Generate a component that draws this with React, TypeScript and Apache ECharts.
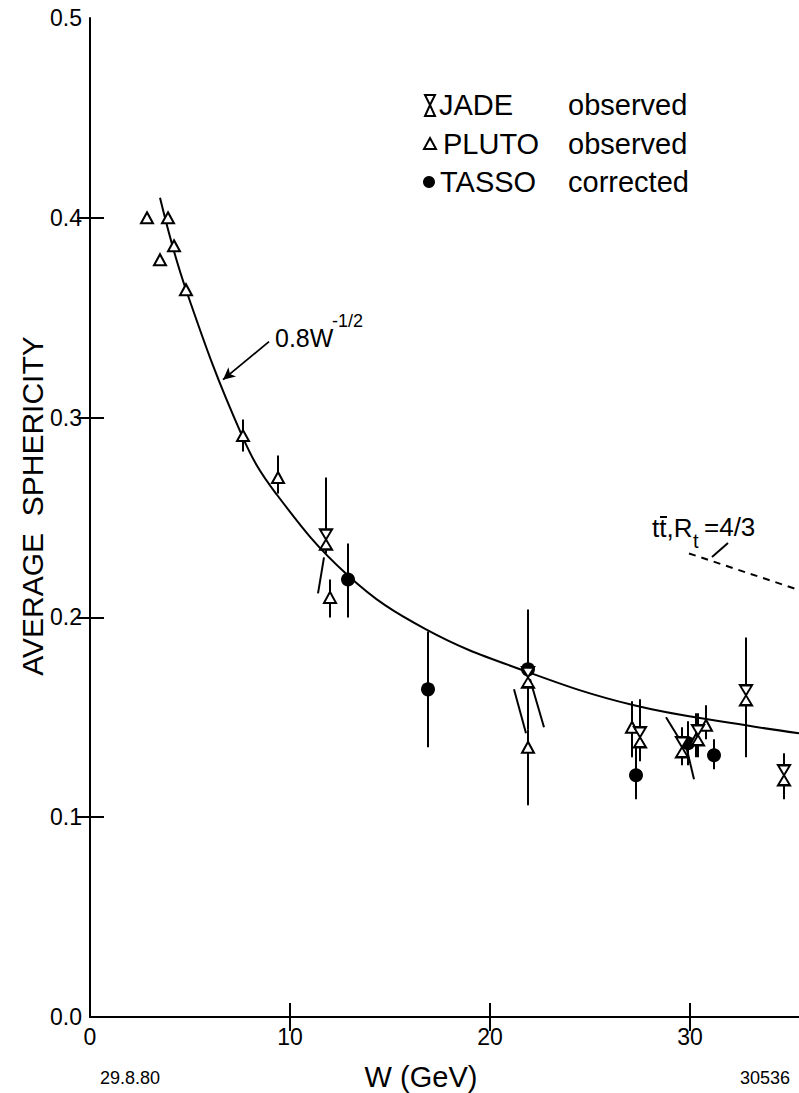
import React, { useEffect, useRef } from "react";
import * as echarts from "echarts";

const FONT = "'Liberation Sans', Arial, sans-serif";

// x axis: centre-of-mass energy W (GeV)
const xMin = 0;
const xMax = 35.45;
const xTicks = [0, 10, 20, 30];
// y axis: average sphericity
const yTicks = [0.0, 0.1, 0.2, 0.3, 0.4, 0.5];

// JADE (observed): W, <S>, error bar low, error bar high
const jadeW = [11.8, 21.9, 27.5, 29.6, 30.4, 32.8, 34.7];
const jadeS = [0.239, 0.17, 0.14, 0.135, 0.141, 0.161, 0.121];
const jadeLo = [0.232, 0.16, 0.128, 0.126, 0.13, 0.13, 0.109];
const jadeHi = [0.27, 0.18, 0.159, 0.145, 0.152, 0.19, 0.132];

// PLUTO (observed)
const plutoW = [2.85, 3.5, 3.9, 4.2, 4.8, 7.65, 9.4, 12.0, 21.9, 27.1, 30.3, 30.8];
const plutoS = [0.4, 0.379, 0.4, 0.386, 0.364, 0.291, 0.27, 0.21, 0.135, 0.145, 0.139, 0.146];
const plutoLo = [null, null, null, null, null, 0.283, 0.262, 0.2, 0.106, 0.13, 0.13, 0.139];
const plutoHi = [null, null, null, null, null, 0.299, 0.281, 0.219, 0.144, 0.158, 0.152, 0.156];

// TASSO (corrected)
const tassoW = [12.9, 16.9, 21.9, 27.3, 29.9, 31.2];
const tassoS = [0.219, 0.164, 0.174, 0.121, 0.137, 0.131];
const tassoLo = [0.2, 0.135, 0.144, 0.109, 0.126, 0.124];
const tassoHi = [0.237, 0.193, 0.204, 0.135, 0.148, 0.139];

// tilted error bars: start (W, S) -> end (W, S)
const tiltW1 = [11.7, 21.2, 22.0, 28.8, 29.7];
const tiltS1 = [0.23, 0.164, 0.169, 0.15, 0.14];
const tiltW2 = [11.4, 21.8, 22.7, 29.6, 30.2];
const tiltS2 = [0.212, 0.142, 0.145, 0.137, 0.119];

// 0.8 W^-1/2 curve
const curveW = [3.5, 4.8, 7.6, 9.3, 12.9, 16.8, 21.8, 27.2, 32.8, 35.45];
const curveS = [0.41, 0.364, 0.291, 0.262, 0.221, 0.194, 0.173, 0.156, 0.146, 0.142];

// t tbar contribution, R_t = 4/3
const ttW = [29.95, 35.45];
const ttS = [0.232, 0.2137];

const HOURGLASS = "path://M0,0L12,0L6,10L12,20L0,20L6,10Z";

function pairs(xs: number[], ys: number[]) {
  return xs.map((x, i) => [x, ys[i]]);
}
function bars(xs: number[], lo: (number | null)[], hi: (number | null)[]) {
  const out: number[][] = [];
  xs.forEach((x, i) => {
    if (lo[i] != null && hi[i] != null) out.push([x, lo[i] as number, hi[i] as number]);
  });
  return out;
}

const barRender = (_p: any, api: any) => {
  const a = api.coord([api.value(0), api.value(1)]);
  const b = api.coord([api.value(0), api.value(2)]);
  return {
    type: "line",
    shape: { x1: a[0], y1: a[1], x2: b[0], y2: b[1] },
    style: { stroke: "#000", lineWidth: 2 },
  };
};
const tiltRender = (_p: any, api: any) => {
  const a = api.coord([api.value(0), api.value(1)]);
  const b = api.coord([api.value(2), api.value(3)]);
  return {
    type: "line",
    shape: { x1: a[0], y1: a[1], x2: b[0], y2: b[1] },
    style: { stroke: "#000", lineWidth: 2 },
  };
};

export default function App() {
  const ref = useRef<HTMLDivElement>(null);

  useEffect(() => {
    if (!ref.current) return;
    const chart = echarts.init(ref.current, undefined, { renderer: "svg" });

    const axisLabel = { color: "#000", fontFamily: FONT, fontSize: 23 };
    const txt = (text: string, x: number, y: number, size: number, extra: any = {}, rotation = 0) => ({
      type: "text",
      x,
      y,
      rotation,
      silent: true,
      style: {
        text,
        fill: "#000",
        fontFamily: FONT,
        fontSize: size,
        align: "left",
        verticalAlign: "middle",
        ...extra,
      },
    });

    chart.setOption({
      animation: false,
      backgroundColor: "#fff",
      grid: { left: 90, right: 0, top: 18, bottom: 76 },
      xAxis: [
        {
          type: "value",
          min: xMin,
          max: xMax,
          interval: 10,
          position: "bottom",
          splitLine: { show: false },
          axisLine: { lineStyle: { color: "#000", width: 2 } },
          axisTick: { inside: true, length: 14, lineStyle: { color: "#000", width: 2 }, customValues: [10, 20, 30] },
          axisLabel: { ...axisLabel, margin: 8, customValues: xTicks, formatter: (v: number) => String(v) },
        },
        {
          type: "value",
          min: xMin,
          max: xMax,
          interval: 10,
          position: "top",
          splitLine: { show: false },
          axisLine: { lineStyle: { color: "#000", width: 1.5 } },
          axisTick: { inside: true, length: 14, lineStyle: { color: "#000", width: 2 }, customValues: [10, 20, 30] },
          axisLabel: { show: false },
        },
      ],
      yAxis: [
        {
          type: "value",
          min: 0,
          max: 0.5,
          interval: 0.1,
          position: "left",
          splitLine: { show: false },
          axisLine: { lineStyle: { color: "#000", width: 2 } },
          axisTick: { inside: true, length: 14, lineStyle: { color: "#000", width: 2 }, customValues: [0.1, 0.2, 0.3, 0.4] },
          axisLabel: { ...axisLabel, margin: 8, customValues: yTicks, formatter: (v: number) => v.toFixed(1) },
        },
        {
          type: "value",
          min: 0,
          max: 0.5,
          interval: 0.1,
          position: "right",
          splitLine: { show: false },
          axisLine: { show: false },
          axisTick: { show: true, inside: true, length: 13, lineStyle: { color: "#000", width: 2 }, customValues: [0.1, 0.2, 0.3, 0.4] },
          axisLabel: { show: false },
        },
      ],
      series: [
        {
          name: "0.8W^-1/2",
          type: "line",
          data: pairs(curveW, curveS),
          smooth: 0.4,
          showSymbol: false,
          lineStyle: { color: "#000", width: 2 },
          z: 2,
          markLine: {
            silent: true,
            symbol: ["none", "arrow"],
            symbolSize: [9, 12],
            label: { show: false },
            lineStyle: { color: "#000", width: 1.8, type: "solid" },
            data: [[{ coord: [8.95, 0.338] }, { coord: [6.65, 0.319] }]],
          },
        },
        {
          name: "tt",
          type: "line",
          data: pairs(ttW, ttS),
          showSymbol: false,
          lineStyle: { color: "#000", width: 2, type: [7, 6] },
          z: 2,
          markLine: {
            silent: true,
            symbol: ["none", "none"],
            label: { show: false },
            lineStyle: { color: "#000", width: 2, type: "solid" },
            data: [[{ coord: [31.1, 0.2302] }, { coord: [31.9, 0.2372] }]],
          },
        },
        {
          name: "errors",
          type: "custom",
          renderItem: barRender,
          encode: { x: 0, y: [1, 2] },
          data: [...bars(jadeW, jadeLo, jadeHi), ...bars(plutoW, plutoLo, plutoHi), ...bars(tassoW, tassoLo, tassoHi)],
          z: 3,
          silent: true,
        },
        {
          name: "tilted",
          type: "custom",
          renderItem: tiltRender,
          encode: { x: [0, 2], y: [1, 3] },
          data: tiltW1.map((w, i) => [w, tiltS1[i], tiltW2[i], tiltS2[i]]),
          z: 3,
          silent: true,
        },
        {
          name: "TASSO corrected",
          type: "scatter",
          data: pairs(tassoW, tassoS),
          symbol: "circle",
          symbolSize: 14,
          itemStyle: { color: "#000", opacity: 1 },
          z: 4,
        },
        {
          name: "PLUTO observed",
          type: "scatter",
          data: pairs(plutoW, plutoS),
          symbol: "triangle",
          symbolSize: [12, 11],
          itemStyle: { color: "#fff", borderColor: "#000", borderWidth: 2, opacity: 1 },
          z: 5,
        },
        {
          name: "JADE observed",
          type: "scatter",
          data: pairs(jadeW, jadeS),
          symbol: HOURGLASS,
          symbolSize: [12, 20],
          itemStyle: { color: "#fff", borderColor: "#000", borderWidth: 2, opacity: 1 },
          z: 6,
        },
      ],
      graphic: [
        // axis titles
        txt("AVERAGE  SPHERICITY", 32, 506, 30, { align: "center" }, Math.PI / 2),
        txt("W (GeV)", 421, 1077, 29, { align: "center" }),
        txt("29.8.80", 100, 1078, 18),
        txt("30536", 790, 1078, 18, { align: "right" }),
        // legend
        {
          type: "polygon",
          silent: true,
          shape: { points: [[425, 95], [435, 95], [430, 105], [435, 116], [425, 116], [430, 105]] },
          style: { fill: "#fff", stroke: "#000", lineWidth: 2 },
        },
        {
          type: "polygon",
          silent: true,
          shape: { points: [[430, 138], [436, 149], [424, 149]] },
          style: { fill: "#fff", stroke: "#000", lineWidth: 2 },
        },
        { type: "circle", silent: true, shape: { cx: 429, cy: 182, r: 6 }, style: { fill: "#000" } },
        txt("JADE", 439, 105, 29),
        txt("PLUTO", 443, 144, 29),
        txt("TASSO", 440, 182, 29),
        txt("observed", 568, 105, 29),
        txt("observed", 568, 144, 29),
        txt("corrected", 568, 182, 29),
        // curve annotation
        txt("0.8W", 275, 338, 25),
        txt("-1/2", 332, 321, 18),
        // t tbar annotation
        txt("tt,R", 652, 528, 26),
        { type: "line", silent: true, shape: { x1: 660, y1: 517, x2: 667, y2: 517 }, style: { stroke: "#000", lineWidth: 2 } },
        txt("t", 693, 541, 20),
        txt("=4/3", 704, 527, 26),
      ],
    });

    return () => chart.dispose();
  }, []);

  return (
    <div
      ref={ref}
      style={{ position: "absolute", left: 0, top: 0, width: 799, height: 1093, background: "#fff" }}
    />
  );
}
